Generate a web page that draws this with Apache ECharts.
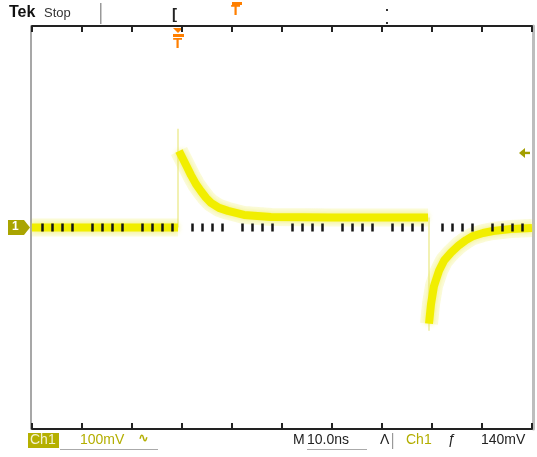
<!DOCTYPE html>
<html>
<head>
<meta charset="utf-8">
<script src="https://cdn.jsdelivr.net/npm/echarts@6/dist/echarts.min.js"></script>
<style>html,body{margin:0;padding:0;background:#fff}#c{width:537px;height:457px}</style>
</head>
<body>
<div id="c"></div>
<script>
// time in ns (10 ns/div), amplitude in mV (100 mV/div)
const baseline = [[0, 0], [29.2, 0]];
const pulseDecay = [[29.4, 152], [30.2, 136], [31.0, 120], [31.8, 104], [32.8, 86], [33.8, 72], [34.8, 59], [35.8, 49], [37.4, 39], [39.2, 33], [42.4, 25], [47.8, 21], [60, 20], [70, 20], [79.2, 20]];
const recovery = [[79.4, -191], [79.8, -152], [80.4, -116], [81.4, -86], [82.4, -66], [83.8, -50], [85.4, -35], [86.8, -25], [88.2, -17], [90.2, -11], [92.2, -7], [95.8, -3], [100, -1]];
const riseSpike = [[29.2, 0], [29.2, 196]];
const fallSpike = [[79.4, 20], [79.4, -205]];
const xRange = [0, 100];
const yRange = [-400, 400];
const triggerLevel = 148;

const olive = '#b3ae00';
const traceColor = '#f1ee00';
const font = '"Liberation Sans Narrow","Liberation Sans","DejaVu Sans",sans-serif';

const chart = echarts.init(document.getElementById('c'), null, {renderer: 'canvas'});

function xAx(extra) {
  return Object.assign({
    type: 'value', min: xRange[0], max: xRange[1], interval: 10,
    axisLabel: {show: false}, splitLine: {show: false}
  }, extra);
}
function haloSeries(data) {
  return {
    type: 'line', data: data, showSymbol: false, symbol: 'none',
    xAxisIndex: 0, yAxisIndex: 0, z: 2,
    lineStyle: {color: 'rgba(238,236,90,0.22)', width: 18},
    animation: false
  };
}
function traceSeries(data) {
  return {
    type: 'line', data: data, showSymbol: false, symbol: 'none',
    xAxisIndex: 0, yAxisIndex: 0, z: 3,
    lineStyle: {color: traceColor, width: 8, shadowColor: 'rgba(236,234,40,0.6)', shadowBlur: 5},
    animation: false
  };
}
function spikeSeries(data) {
  return {
    type: 'line', data: data, showSymbol: false, symbol: 'none',
    xAxisIndex: 0, yAxisIndex: 0, z: 2,
    lineStyle: {color: 'rgba(232,230,120,0.75)', width: 1.5},
    animation: false
  };
}

const option = {
  backgroundColor: '#ffffff',
  animation: false,
  grid: {left: 32, top: 26, width: 500, height: 403},
  xAxis: [
    xAx({position: 'top', axisLine: {onZero: false, lineStyle: {color: '#222', width: 2}},
         axisTick: {show: true, inside: true, length: 6, lineStyle: {color: '#222', width: 2}}}),
    xAx({position: 'bottom', axisLine: {onZero: false, lineStyle: {color: '#222', width: 2}},
         axisTick: {show: true, inside: true, length: 6, lineStyle: {color: '#222', width: 2}}}),
    xAx({position: 'bottom', z: 10, axisLine: {show: false, onZero: true, onZeroAxisIndex: 0},
         axisTick: {show: false, inside: true},
         minorTick: {show: true, splitNumber: 5, length: 4, lineStyle: {color: '#151515', width: 2.5}}}),
    xAx({position: 'bottom', z: 10, axisLine: {show: false, onZero: true, onZeroAxisIndex: 0},
         axisTick: {show: false, inside: false},
         minorTick: {show: true, splitNumber: 5, length: 4, lineStyle: {color: '#151515', width: 2.5}}})
  ],
  yAxis: [
    {type: 'value', min: yRange[0], max: yRange[1], interval: 100, position: 'left', offset: 1,
     axisLine: {show: true, onZero: false, lineStyle: {color: '#8a8a8a', width: 1.5}}, axisTick: {show: false},
     axisLabel: {show: false}, splitLine: {show: false}},
    {type: 'value', min: yRange[0], max: yRange[1], interval: 100, position: 'right', offset: 1,
     axisLine: {show: true, onZero: false, lineStyle: {color: '#bdbdbd', width: 3}}, axisTick: {show: false},
     axisLabel: {show: false}, splitLine: {show: false}}
  ],
  series: [
    spikeSeries(riseSpike),
    spikeSeries(fallSpike),
    haloSeries(baseline),
    haloSeries(pulseDecay),
    haloSeries(recovery),
    traceSeries(baseline),
    traceSeries(pulseDecay),
    traceSeries(recovery)
  ]
};
chart.setOption(option);

// overlay annotations (scope readout), positioned relative to the grid
const gy = v => chart.convertToPixel({yAxisIndex: 0}, v);
const gx = v => chart.convertToPixel({xAxisIndex: 0}, v);
const zeroY = gy(0);
const trigY = gy(triggerLevel);
const trigX = gx(riseSpike[0][0]);

chart.setOption({
  graphic: [
    {type: 'text', left: 9, top: 5, style: {text: 'Tek', font: 'bold 16px ' + font, fill: '#111'}},
    {type: 'text', left: 44, top: 7, style: {text: 'Stop', font: '13px ' + font, fill: '#333'}},
    {type: 'rect', shape: {x: 100, y: 3, width: 1.5, height: 21}, style: {fill: '#999'}},
    {type: 'text', left: 172, top: 7, style: {text: '[', font: 'bold 15px ' + font, fill: '#222'}},
    {type: 'rect', shape: {x: 232, y: 2, width: 10, height: 3}, style: {fill: '#ff7f00'}},
    {type: 'text', x: 231, y: 3, style: {text: 'T', font: 'bold 15px ' + font, fill: '#ff7f00'}},
    {type: 'rect', shape: {x: 386, y: 9, width: 2, height: 2}, style: {fill: '#333'}},
    {type: 'rect', shape: {x: 386, y: 22, width: 2, height: 2}, style: {fill: '#333'}},
    {type: 'polygon', shape: {points: [[trigX - 5, 28], [trigX + 5, 28], [trigX, 33]]}, style: {fill: '#ff7f00'}},
    {type: 'rect', shape: {x: trigX - 5, y: 34, width: 11, height: 3}, style: {fill: '#ff7f00'}},
    {type: 'text', x: trigX - 5, y: 36, style: {text: 'T', font: 'bold 15px ' + font, fill: '#ff7f00'}},
    {type: 'polygon', shape: {points: [[8, zeroY - 7.5], [24, zeroY - 7.5], [30, zeroY], [24, zeroY + 7.5], [8, zeroY + 7.5]]}, style: {fill: '#a9a400'}},
    {type: 'text', x: 12, y: zeroY - 7, style: {text: '1', font: 'bold 12px ' + font, fill: '#ffffff'}},
    {type: 'polygon', shape: {points: [[519, trigY], [525, trigY - 5], [525, trigY + 5]]}, style: {fill: '#a39f00'}},
    {type: 'rect', shape: {x: 524, y: trigY - 1.2, width: 6, height: 2.4}, style: {fill: '#a39f00'}},
    {type: 'rect', shape: {x: 28, y: 433, width: 31, height: 15}, style: {fill: '#b5b000'}},
    {type: 'text', x: 30, y: 433, style: {text: 'Ch1', font: '14px ' + font, fill: '#f4f2d0'}},
    {type: 'text', x: 80, y: 433, style: {text: '100mV', font: '14px ' + font, fill: olive}},
    {type: 'text', x: 138, y: 432, style: {text: '\u223f', font: 'bold 13px ' + font, fill: olive}},
    {type: 'rect', shape: {x: 60, y: 449, width: 98, height: 1}, style: {fill: '#aaa'}},
    {type: 'text', x: 293, y: 433, style: {text: 'M', font: '14px ' + font, fill: '#222'}},
    {type: 'text', x: 307, y: 433, style: {text: '10.0ns', font: '14px ' + font, fill: '#222'}},
    {type: 'rect', shape: {x: 307, y: 449, width: 60, height: 1}, style: {fill: '#aaa'}},
    {type: 'text', x: 380, y: 433, style: {text: '\u039b', font: '14px ' + font, fill: '#222'}},
    {type: 'rect', shape: {x: 392, y: 433, width: 1.2, height: 16}, style: {fill: '#999'}},
    {type: 'text', x: 406, y: 433, style: {text: 'Ch1', font: '14px ' + font, fill: olive}},
    {type: 'text', x: 448, y: 433, style: {text: '\u0192', font: '14px ' + font, fill: '#222'}},
    {type: 'text', x: 481, y: 433, style: {text: '140mV', font: '14px ' + font, fill: '#222'}}
  ]
});
</script>
</body>
</html>
